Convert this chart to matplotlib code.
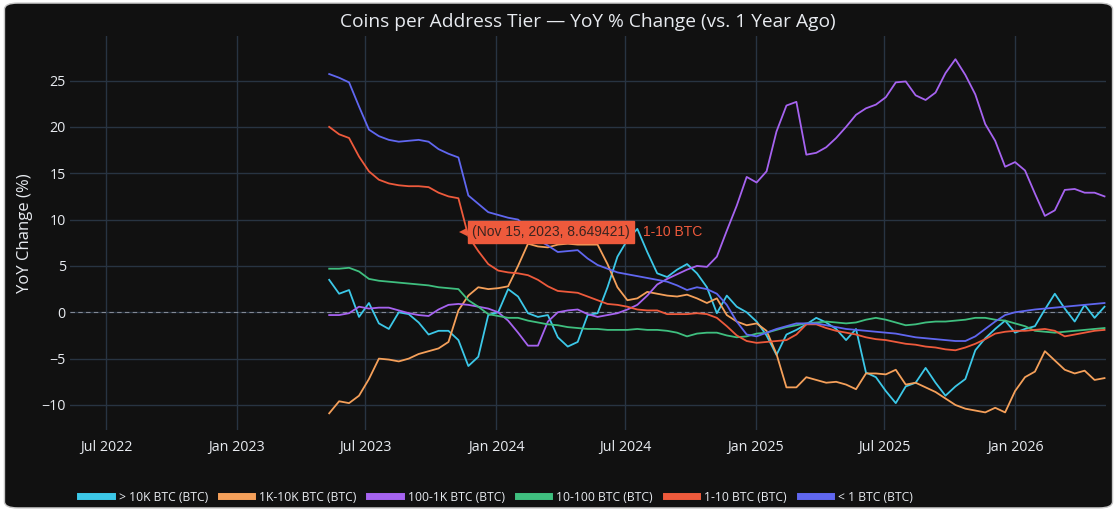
import numpy as np
import pandas as pd
import matplotlib
matplotlib.use('Agg')
import matplotlib.pyplot as plt
import matplotlib.dates as mdates
from matplotlib.patches import FancyBboxPatch
from matplotlib.lines import Line2D

plt.rcParams['font.family'] = ['Open Sans', 'DejaVu Sans']

# ------------------------------------------------------------
# data (one sample every two weeks)
# ------------------------------------------------------------
DATES = pd.date_range('2023-05-11', periods=79, freq='14D')

gt_10k = [3.5, 2.0, 2.4, -0.5, 1.0, -1.2, -1.8, 0.0, -0.2, -1.1,
          -2.4, -2.0, -2.0, -3.0, -5.8, -4.8, -0.3, 0.0, 2.5, 1.7,
          -0.1, -0.5, -0.3, -2.7, -3.7, -3.2, -0.3, -0.1, 2.7, 6.0,
          7.8, 9.0, 6.5, 4.2, 3.8, 4.6, 5.2, 4.2, 2.7, -0.1,
          1.8, 0.6, 0.0, -1.0, -2.5, -4.6, -2.4, -1.9, -1.3, -0.6,
          -1.1, -1.8, -3.0, -1.8, -6.5, -7.0, -8.5, -9.8, -8.0, -7.6,
          -6.0, -7.6, -9.0, -8.0, -7.2, -4.1, -2.8, -1.8, -0.9, -2.2,
          -1.8, -1.5, 0.3, 2.0, 0.4, -1.0, 0.8, -0.6, 0.6]

k1_10k = [-10.9, -9.6, -9.8, -9.0, -7.2, -5.0, -5.1, -5.3, -5.0, -4.5,
          -4.2, -3.9, -3.2, 0.2, 1.8, 2.7, 2.5, 2.6, 2.8, 5.0,
          7.4, 7.1, 7.0, 7.3, 7.4, 7.3, 7.3, 7.3, 5.2, 2.7,
          1.3, 1.5, 2.2, 2.0, 1.8, 1.7, 1.9, 1.5, 1.0, 1.5,
          -0.3, -1.0, -1.4, -1.2, -2.0, -4.5, -8.1, -8.1, -7.0, -7.3,
          -7.6, -7.5, -7.8, -8.3, -6.6, -6.6, -6.7, -6.2, -7.8, -7.6,
          -8.1, -8.6, -9.3, -10.0, -10.4, -10.6, -10.8, -10.3, -10.8, -8.5,
          -7.0, -6.4, -4.2, -5.2, -6.2, -6.6, -6.3, -7.3, -7.1]

h100_1k = [-0.3, -0.3, -0.1, 0.6, 0.4, 0.5, 0.5, 0.2, -0.1, -0.3,
           -0.4, 0.3, 0.8, 0.9, 0.8, 0.6, 0.4, 0.0, -0.9, -2.2,
           -3.6, -3.6, -1.0, 0.0, 0.2, 0.3, -0.2, -0.5, -0.3, -0.1,
           0.3, 0.8, 1.8, 3.0, 3.6, 4.1, 4.6, 5.0, 4.9, 6.0,
           8.8, 11.5, 14.6, 14.0, 15.2, 19.5, 22.3, 22.7, 17.0, 17.2,
           17.8, 18.8, 20.0, 21.3, 22.0, 22.4, 23.2, 24.8, 24.9, 23.4,
           22.9, 23.7, 25.8, 27.3, 25.6, 23.5, 20.3, 18.5, 15.7, 16.2,
           15.3, 12.8, 10.4, 11.0, 13.2, 13.3, 12.9, 12.9, 12.5]

t10_100 = [4.7, 4.7, 4.8, 4.4, 3.6, 3.4, 3.3, 3.2, 3.1, 3.0,
           2.9, 2.7, 2.6, 2.5, 1.3, 0.6, -0.2, -0.4, -0.6, -0.6,
           -0.9, -1.1, -1.3, -1.4, -1.6, -1.7, -1.8, -1.8, -1.9, -1.9,
           -1.9, -1.8, -1.9, -1.9, -2.0, -2.2, -2.6, -2.3, -2.2, -2.2,
           -2.5, -2.7, -2.6, -2.3, -2.2, -1.9, -1.6, -1.4, -1.2, -1.1,
           -1.0, -1.1, -1.2, -1.1, -0.8, -0.6, -0.8, -1.1, -1.4, -1.3,
           -1.1, -1.0, -1.0, -0.9, -0.8, -0.6, -0.6, -0.8, -0.9, -1.2,
           -1.5, -2.0, -2.1, -2.2, -2.1, -2.0, -1.9, -1.8, -1.7]

o1_10 = [20.0, 19.2, 18.8, 16.8, 15.2, 14.3, 13.9, 13.7, 13.6, 13.6,
         13.5, 12.9, 12.5, 12.3, 8.2, 6.6, 5.2, 4.5, 4.3, 4.2,
         4.0, 3.5, 2.8, 2.3, 2.2, 2.1, 1.7, 1.3, 0.9, 0.8,
         0.6, 0.3, 0.2, 0.2, -0.2, -0.2, -0.2, -0.1, -0.2, -0.6,
         -1.5, -2.5, -3.1, -3.3, -3.2, -3.1, -3.0, -2.4, -1.3, -1.3,
         -1.7, -2.0, -2.2, -2.4, -2.7, -2.9, -3.0, -3.2, -3.4, -3.5,
         -3.7, -3.8, -4.0, -4.1, -3.8, -3.4, -2.9, -2.3, -2.1, -2.0,
         -2.0, -1.9, -1.8, -2.0, -2.6, -2.4, -2.2, -2.0, -1.9]

lt_1 = [25.7, 25.3, 24.8, 22.2, 19.7, 19.0, 18.6, 18.4, 18.5, 18.6,
        18.4, 17.6, 17.1, 16.7, 12.6, 11.7, 10.8, 10.5, 10.2, 10.0,
        9.0, 7.8, 7.2, 6.5, 6.6, 6.7, 5.8, 5.1, 4.7, 4.3,
        4.1, 3.9, 3.7, 3.5, 3.3, 2.9, 2.4, 2.7, 2.5, 2.0,
        0.8, -1.0, -2.4, -2.6, -2.2, -1.8, -1.5, -1.2, -1.2, -1.2,
        -1.4, -1.6, -1.8, -1.9, -2.0, -2.1, -2.2, -2.3, -2.5, -2.7,
        -2.8, -2.9, -3.0, -3.1, -3.1, -2.6, -1.8, -1.0, -0.3, 0.0,
        0.15, 0.3, 0.4, 0.5, 0.6, 0.7, 0.8, 0.9, 1.0]

SERIES = [
    ('> 10K BTC (BTC)',  gt_10k,  '#3cc8e8'),
    ('1K-10K BTC (BTC)', k1_10k,  '#f5a05a'),
    ('100-1K BTC (BTC)', h100_1k, '#a663f0'),
    ('10-100 BTC (BTC)', t10_100, '#3fbf7f'),
    ('1-10 BTC (BTC)',   o1_10,   '#ee5a3c'),
    ('< 1 BTC (BTC)',    lt_1,    '#6067f0'),
]

HOVER_DATE = pd.Timestamp('2023-11-15')
HOVER_VAL = 8.649421
HOVER_NAME = '1-10 BTC'

X_START = pd.Timestamp('2022-05-11')
X_END = pd.Timestamp('2026-05-09')

BG = '#111111'
GRID = '#283442'
FG = '#e8ebf0'

# ------------------------------------------------------------
# figure
# ------------------------------------------------------------
fig = plt.figure(figsize=(11.17, 5.11), dpi=100, facecolor='white')
panel = FancyBboxPatch((0.004, 0.006), 0.992, 0.988,
                       boxstyle='round,pad=0,rounding_size=0.012',
                       transform=fig.transFigure, facecolor=BG,
                       edgecolor='#c8c8c8', linewidth=1.0, zorder=-10)
fig.patches.append(panel)

ax = fig.add_axes([0.0627, 0.1585, 0.9274, 0.771])
ax.set_facecolor(BG)

for name, vals, color in SERIES:
    ax.plot(DATES, vals, color=color, linewidth=1.3, label=name)

ax.axhline(0, color='#aab0bb', linestyle=(0, (4, 3)), linewidth=0.8,
           alpha=0.7, zorder=1)

ax.set_xlim(X_START, X_END)
ax.set_ylim(-12.7, 29.8)
ax.set_yticks([-10, -5, 0, 5, 10, 15, 20, 25])
ax.set_yticklabels(['\u221210', '\u22125', '0', '5', '10', '15', '20', '25'])
ax.xaxis.set_major_locator(mdates.MonthLocator(bymonth=[1, 7]))
ax.xaxis.set_major_formatter(mdates.DateFormatter('%b %Y'))

ax.grid(True, color=GRID, linewidth=1.0)
ax.set_axisbelow(True)
for s in ax.spines.values():
    s.set_visible(False)
ax.tick_params(colors=FG, labelsize=10.3, length=0)
ax.tick_params(axis='x', pad=7)
ax.tick_params(axis='y', pad=3)

ax.set_ylabel('YoY Change (%)', color=FG, fontsize=12, labelpad=6)
fig.text(0.5265, 0.957, 'Coins per Address Tier \u2014 YoY % Change (vs. 1 Year Ago)',
         ha='center', va='center', color=FG, fontsize=13.8)

# hover label on the 1-10 BTC line
ax.plot([HOVER_DATE], [HOVER_VAL], marker='<', color='#ee5a3c',
        markersize=6, zorder=6, markeredgewidth=0)
ax.annotate(f'({HOVER_DATE:%b %d, %Y}, {HOVER_VAL})', xy=(HOVER_DATE, HOVER_VAL),
            xytext=(7, 0), textcoords='offset points', ha='left', va='center',
            fontsize=10, color='#3a2420', family=['Liberation Sans'],
            bbox=dict(boxstyle='square,pad=0.3', facecolor='#ee5a3c',
                      edgecolor='#ee5a3c'), zorder=7)
ax.annotate(HOVER_NAME, xy=(HOVER_DATE, HOVER_VAL), xytext=(130, 0),
            textcoords='offset points', ha='left', va='center',
            fontsize=10, color='#ee5a3c', family=['Liberation Sans'], zorder=7)

handles = [Line2D([], [], color=c, linewidth=5) for _, _, c in SERIES]
labels = [n for n, _, _ in SERIES]
leg = fig.legend(handles, labels, loc='center left', bbox_to_anchor=(0.062, 0.027),
                 ncol=6, frameon=False, fontsize=8.7, handlelength=2.6,
                 handletextpad=0.6, columnspacing=1.05, labelcolor=FG)

fig.savefig('out.png', dpi=100, facecolor='white')
